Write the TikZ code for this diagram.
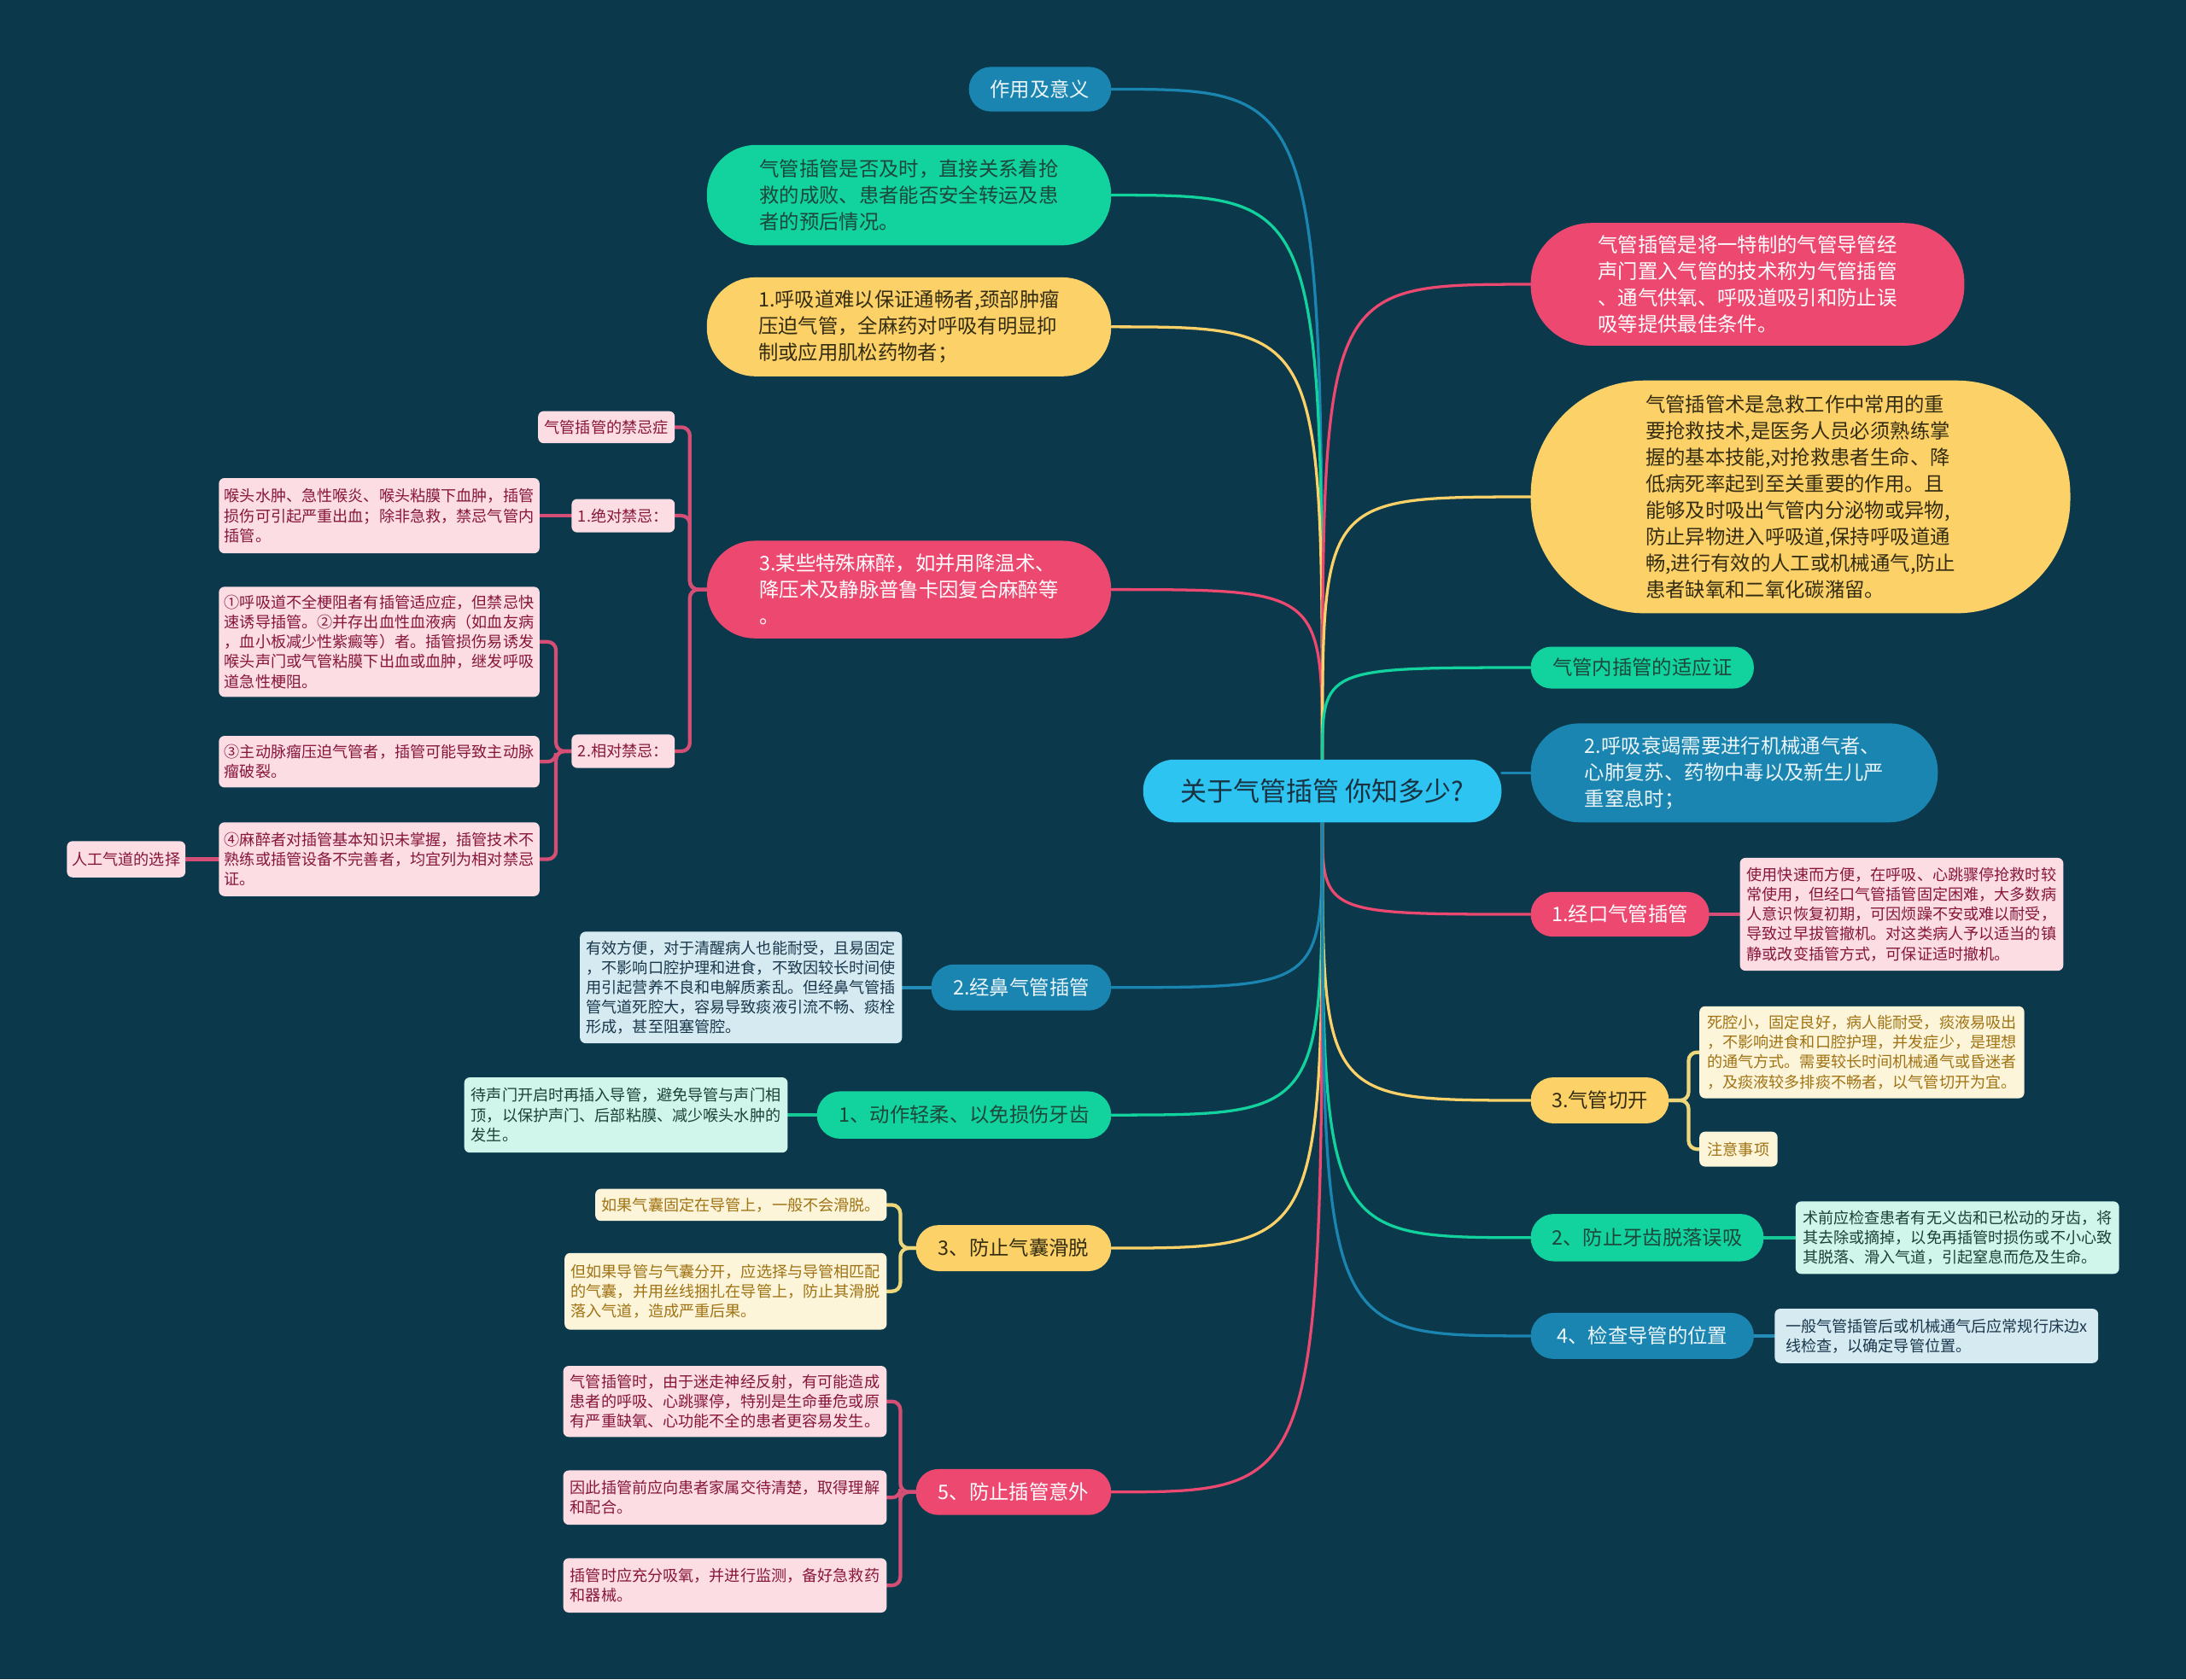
\documentclass[tikz,border=0pt]{standalone}
\usepackage{fontspec}
\setmainfont{Noto Sans CJK SC}
\usetikzlibrary{calc}
\pgfdeclarelayer{bglayer}
\pgfdeclarelayer{edgelayer}
\pgfsetlayers{bglayer,edgelayer,main}
\definecolor{bgc}{RGB}{11,57,75}
\definecolor{cBlue}{RGB}{26,133,176}
\definecolor{cGreen}{RGB}{18,210,158}
\definecolor{cYellow}{RGB}{252,209,104}
\definecolor{cPink}{RGB}{236,72,112}
\definecolor{cCenter}{RGB}{45,196,242}
\definecolor{cCenterT}{RGB}{25,50,65}
\definecolor{cGreenT}{RGB}{28,72,60}
\definecolor{cYellowT}{RGB}{52,45,18}
\definecolor{cBlueT}{RGB}{236,246,250}
\definecolor{lPink}{RGB}{252,221,228}
\definecolor{lPinkT}{RGB}{135,22,58}
\definecolor{lBlue}{RGB}{214,234,242}
\definecolor{lBlueT}{RGB}{25,55,75}
\definecolor{lMint}{RGB}{208,245,235}
\definecolor{lMintT}{RGB}{25,65,55}
\definecolor{lCream}{RGB}{253,245,218}
\definecolor{lCreamT}{RGB}{160,115,20}
\definecolor{sPink}{RGB}{212,78,118}
\definecolor{sYellow}{RGB}{238,214,122}
\definecolor{sBlue}{RGB}{36,140,182}
\definecolor{sGreen}{RGB}{22,200,150}
\tikzset{
  pill/.style n args={3}{shape=rectangle, align=left, inner sep=0pt,
    minimum width=#1pt, minimum height=#2pt, rounded corners={#2*0.49pt},
    fill=#3, font=\fontsize{14.3}{19}\selectfont},
  leaf/.style n args={3}{shape=rectangle, align=left, inner sep=0pt,
    minimum width=#1pt, minimum height=#2pt, rounded corners=4pt,
    fill=#3, font=\fontsize{11.1}{14.2}\selectfont},
  mainline/.style={line width=2pt, line cap=round},
  subline/.style={line width=2.6pt, rounded corners=6pt, line cap=round},
}
\begin{document}
\begin{tikzpicture}[x=1pt,y=-1pt]
\useasboundingbox (0,0) rectangle (1568,1205);
\begin{pgfonlayer}{bglayer}
\fill[bgc] (0,0) rectangle (1568,1205);
\end{pgfonlayer}

% center
\node[pill={257}{45}{cCenter}, text=cCenterT, font=\fontsize{19}{22}\selectfont] (C) at (948.5,567.5) {关于气管插管 你知多少?};

% left first level
\node[pill={102}{32}{cBlue}, text=cBlueT] (L1) at (746,64) {作用及意义};
\node[pill={290}{72}{cGreen}, text=cGreenT] (L2) at (652,140) {气管插管是否及时，直接关系着抢\\救的成败、患者能否安全转运及患\\者的预后情况。};
\node[pill={290}{71}{cYellow}, text=cYellowT] (L3) at (652,234.5) {1.呼吸道难以保证通畅者,颈部肿瘤\\压迫气管，全麻药对呼吸有明显抑\\制或应用肌松药物者；};
\node[pill={290}{70}{cPink}, text=white] (L4) at (652,423) {3.某些特殊麻醉，如并用降温术、\\降压术及静脉普鲁卡因复合麻醉等\\。};
\node[pill={129}{33}{cBlue}, text=cBlueT] (L5) at (732.5,708.5) {2.经鼻气管插管};
\node[pill={211}{34}{cGreen}, text=cGreenT] (L6) at (691.5,800) {1、动作轻柔、以免损伤牙齿};
\node[pill={140}{33}{cYellow}, text=cYellowT] (L7) at (727,895.5) {3、防止气囊滑脱};
\node[pill={140}{33}{cPink}, text=white] (L8) at (727,1070.5) {5、防止插管意外};

% right first level
\node[pill={311}{88}{cPink}, text=white] (R1) at (1253.5,204) {气管插管是将一特制的气管导管经\\声门置入气管的技术称为气管插管\\、通气供氧、呼吸道吸引和防止误\\吸等提供最佳条件。};
\node[pill={387}{167}{cYellow}, text=cYellowT] (R2) at (1291.5,356.5) {气管插管术是急救工作中常用的重\\要抢救技术,是医务人员必须熟练掌\\握的基本技能,对抢救患者生命、降\\低病死率起到至关重要的作用。且\\能够及时吸出气管内分泌物或异物,\\防止异物进入呼吸道,保持呼吸道通\\畅,进行有效的人工或机械通气,防止\\患者缺氧和二氧化碳潴留。};
\node[pill={160}{30}{cGreen}, text=cGreenT] (R3) at (1178,479) {气管内插管的适应证};
\node[pill={292}{71}{cBlue}, text=cBlueT] (R4) at (1244,554.5) {2.呼吸衰竭需要进行机械通气者、\\心肺复苏、药物中毒以及新生儿严\\重窒息时；};
\node[pill={128}{32}{cPink}, text=white] (R5) at (1162,656) {1.经口气管插管};
\node[pill={99}{33}{cYellow}, text=cYellowT] (R6) at (1147.5,789.5) {3.气管切开};
\node[pill={167}{34}{cGreen}, text=cGreenT] (R7) at (1181.5,888) {2、防止牙齿脱落误吸};
\node[pill={160}{33}{cBlue}, text=cBlueT] (R8) at (1178,958.5) {4、检查导管的位置};

% left leaves (contraindications)
\node[leaf={98}{23}{lPink}, text=lPinkT] (a1) at (435,306.5) {气管插管的禁忌症};
\node[leaf={74}{24}{lPink}, text=lPinkT] (a2) at (447,370) {1.绝对禁忌：};
\node[leaf={74}{24}{lPink}, text=lPinkT] (a3) at (447,539) {2.相对禁忌：};
\node[leaf={230}{54}{lPink}, text=lPinkT] (a2c) at (272,370) {喉头水肿、急性喉炎、喉头粘膜下血肿，插管\\损伤可引起严重出血；除非急救，禁忌气管内\\插管。};
\node[leaf={230}{79}{lPink}, text=lPinkT] (a3c1) at (272,460.5) {①呼吸道不全梗阻者有插管适应症，但禁忌快\\速诱导插管。②并存出血性血液病（如血友病\\，血小板减少性紫癜等）者。插管损伤易诱发\\喉头声门或气管粘膜下出血或血肿，继发呼吸\\道急性梗阻。};
\node[leaf={230}{37}{lPink}, text=lPinkT] (a3c2) at (272,546.5) {③主动脉瘤压迫气管者，插管可能导致主动脉\\瘤破裂。};
\node[leaf={230}{53}{lPink}, text=lPinkT] (a3c3) at (272,616.5) {④麻醉者对插管基本知识未掌握，插管技术不\\熟练或插管设备不完善者，均宜列为相对禁忌\\证。};
\node[leaf={85}{26}{lPink}, text=lPinkT] (a4) at (90.5,616.5) {人工气道的选择};

% other left leaves
\node[leaf={231}{80}{lBlue}, text=lBlueT] (L5c) at (531.5,708.5) {有效方便，对于清醒病人也能耐受，且易固定\\，不影响口腔护理和进食，不致因较长时间使\\用引起营养不良和电解质紊乱。但经鼻气管插\\管气道死腔大，容易导致痰液引流不畅、痰栓\\形成，甚至阻塞管腔。};
\node[leaf={232}{54}{lMint}, text=lMintT] (L6c) at (449,800) {待声门开启时再插入导管，避免导管与声门相\\顶，以保护声门、后部粘膜、减少喉头水肿的\\发生。};
\node[leaf={209}{23}{lCream}, text=lCreamT] (L7c1) at (531.5,864.5) {如果气囊固定在导管上，一般不会滑脱。};
\node[leaf={231}{55}{lCream}, text=lCreamT] (L7c2) at (520.5,926.5) {但如果导管与气囊分开，应选择与导管相匹配\\的气囊，并用丝线捆扎在导管上，防止其滑脱\\落入气道，造成严重后果。};
\node[leaf={232}{51}{lPink}, text=lPinkT] (L8c1) at (520,1005.5) {气管插管时，由于迷走神经反射，有可能造成\\患者的呼吸、心跳骤停，特别是生命垂危或原\\有严重缺氧、心功能不全的患者更容易发生。};
\node[leaf={232}{39}{lPink}, text=lPinkT] (L8c2) at (520,1074.5) {因此插管前应向患者家属交待清楚，取得理解\\和配合。};
\node[leaf={232}{39}{lPink}, text=lPinkT] (L8c3) at (520,1137.5) {插管时应充分吸氧，并进行监测，备好急救药\\和器械。};

% right leaves
\node[leaf={232}{81}{lPink}, text=lPinkT] (R5c) at (1364,656) {使用快速而方便，在呼吸、心跳骤停抢救时较\\常使用，但经口气管插管固定困难，大多数病\\人意识恢复初期，可因烦躁不安或难以耐受，\\导致过早拔管撤机。对这类病人予以适当的镇\\静或改变插管方式，可保证适时撤机。};
\node[leaf={233}{66}{lCream}, text=lCreamT] (R6c1) at (1335.5,755) {死腔小，固定良好，病人能耐受，痰液易吸出\\，不影响进食和口腔护理，并发症少，是理想\\的通气方式。需要较长时间机械通气或昏迷者\\，及痰液较多排痰不畅者，以气管切开为宜。};
\node[leaf={56}{25}{lCream}, text=lCreamT] (R6c2) at (1247,824.5) {注意事项};
\node[leaf={232}{52}{lMint}, text=lMintT] (R7c) at (1404,888) {术前应检查患者有无义齿和已松动的牙齿，将\\其去除或摘掉，以免再插管时损伤或不小心致\\其脱落、滑入气道，引起窒息而危及生命。};
\node[leaf={232}{39}{lBlue}, text=lBlueT] (R8c) at (1389,958.5) {一般气管插管后或机械通气后应常规行床边x\\线检查，以确定导管位置。};

\begin{pgfonlayer}{edgelayer}
% main curves, upper
\draw[mainline, cBlue]   (C.north) .. controls (C.north |- L1.east) .. (L1.east);
\draw[mainline, cGreen]  (C.north) .. controls (C.north |- L2.east) .. (L2.east);
\draw[mainline, cYellow] (C.north) .. controls (C.north |- L3.east) .. (L3.east);
\draw[mainline, cPink]   (C.north) .. controls (C.north |- L4.east) .. (L4.east);
\draw[mainline, cPink]   (C.north) .. controls (C.north |- R1.west) .. (R1.west);
\draw[mainline, cYellow] (C.north) .. controls (C.north |- R2.west) .. (R2.west);
\draw[mainline, cGreen]  (C.north) .. controls (C.north |- R3.west) .. (R3.west);
\draw[mainline, cBlue]   (C.east |- R4.west) -- (R4.west);
% main curves, lower
\draw[mainline, cBlue]   (C.south) .. controls (C.south |- L5.east) .. (L5.east);
\draw[mainline, cGreen]  (C.south) .. controls (C.south |- L6.east) .. (L6.east);
\draw[mainline, cYellow] (C.south) .. controls (C.south |- L7.east) .. (L7.east);
\draw[mainline, cPink]   (C.south) .. controls (C.south |- L8.east) .. (L8.east);
\draw[mainline, cPink]   (C.south) .. controls (C.south |- R5.west) .. (R5.west);
\draw[mainline, cYellow] (C.south) .. controls (C.south |- R6.west) .. (R6.west);
\draw[mainline, cGreen]  (C.south) .. controls (C.south |- R7.west) .. (R7.west);
\draw[mainline, cBlue]   (C.south) .. controls (C.south |- R8.west) .. (R8.west);

% sub connectors left
\draw[subline, sPink] (L4.west) -- ++(-12,0) |- (a1.east);
\draw[subline, sPink] (L4.west) -- ++(-12,0) |- (a2.east);
\draw[subline, sPink] (L4.west) -- ++(-12,0) |- (a3.east);
\draw[subline, sPink] (a2.west) -- (a2c.east);
\draw[subline, sPink] (a3.west) -- ++(-11,0) |- (a3c1.east);
\draw[subline, sPink] (a3.west) -- ++(-11,0) |- (a3c2.east);
\draw[subline, sPink] (a3.west) -- ++(-11,0) |- (a3c3.east);
\draw[subline, sPink] (a3c3.west) -- (a4.east);
\draw[subline, sBlue] (L5.west) -- (L5c.east);
\draw[subline, sGreen] (L6.west) -- (L6c.east);
\draw[subline, sYellow] (L7.west) -- ++(-11,0) |- (L7c1.east);
\draw[subline, sYellow] (L7.west) -- ++(-11,0) |- (L7c2.east);
\draw[subline, sPink] (L8.west) -- ++(-11,0) |- (L8c1.east);
\draw[subline, sPink] (L8.west) -- ++(-11,0) |- (L8c2.east);
\draw[subline, sPink] (L8.west) -- ++(-11,0) |- (L8c3.east);
% sub connectors right
\draw[subline, sPink] (R5.east) -- (R5c.west);
\draw[subline, sYellow] (R6.east) -- ++(14,0) |- (R6c1.west);
\draw[subline, sYellow] (R6.east) -- ++(14,0) |- (R6c2.west);
\draw[subline, sGreen] (R7.east) -- (R7c.west);
\draw[subline, sBlue] (R8.east) -- (R8c.west);
\end{pgfonlayer}
\end{tikzpicture}
\end{document}
